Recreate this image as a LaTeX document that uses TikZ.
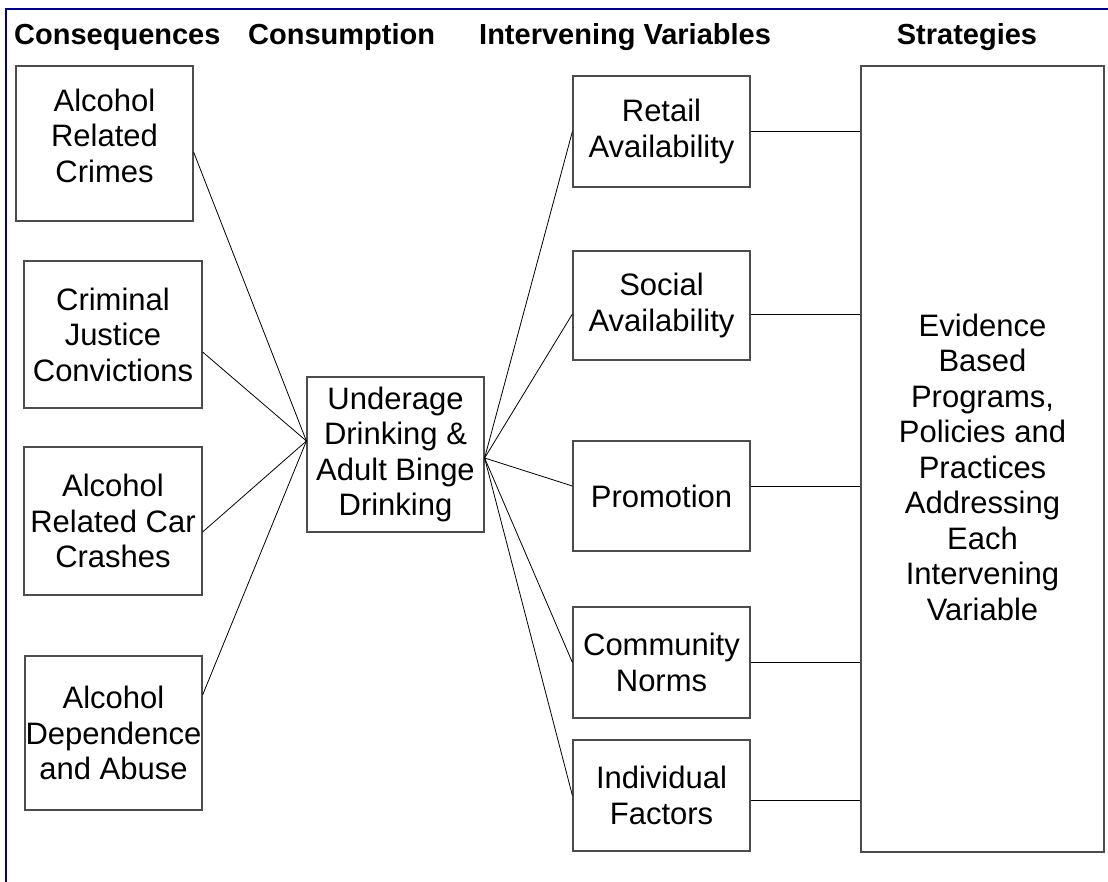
\documentclass[tikz,border=0pt]{standalone}
\usepackage{fontspec}
\setmainfont{Liberation Sans}
\definecolor{framenavy}{RGB}{0,0,128}
\begin{document}
\begin{tikzpicture}[x=1pt,y=-1pt,
  box/.style={draw=black!70, line width=1.2pt, rectangle, inner sep=0pt, align=center,
    font=\fontsize{31}{35.5}\selectfont},
  txt/.style={inner sep=0pt, align=center, font=\fontsize{31}{35.5}\selectfont},
  head/.style={inner sep=0pt, font=\fontsize{29}{33}\selectfont\bfseries},
  link/.style={draw=black, line width=0.8pt}]
\useasboundingbox (0,0) rectangle (1108,882);
\fill[white] (0,0) rectangle (1108,882);
\draw[framenavy, line width=2.2pt] (1108,9) -- (6,9) -- (6,882);

% headers
\node[head, anchor=base west] (h1) at (14,45) {Consequences};
\node[head, anchor=base west] (h2) at (248,45) {Consumption};
\node[head, anchor=base west] (h3) at (479,45) {Intervening Variables};
\node[head, anchor=base] (h4) at (967,45) {Strategies};

% consequences
\node[box, minimum width=177, minimum height=155] (A) at (104.5,143.5) {};
\node[txt] (At) at ([yshift=8pt]A.center) {Alcohol\\Related\\Crimes};
\node[box, minimum width=178, minimum height=147] (B) at (113,334.5) {Criminal\\Justice\\Convictions};
\node[box, minimum width=178, minimum height=148] (C) at (113,521) {Alcohol\\Related Car\\Crashes};
\node[box, minimum width=177, minimum height=154] (D) at (113.5,733) {Alcohol\\Dependence\\and Abuse};

% consumption
\node[box, minimum width=177, minimum height=155] (M) at (395.5,454.5) {Underage\\Drinking \&\\Adult Binge\\Drinking};

% intervening variables
\node[box, minimum width=177, minimum height=111] (R1) at (661.5,131.5) {Retail\\Availability};
\node[box, minimum width=177, minimum height=109] (R2) at (661.5,305.5) {Social\\Availability};
\node[box, minimum width=177, minimum height=110] (R3) at (661.5,496) {Promotion};
\node[box, minimum width=177, minimum height=111] (R4) at (661.5,662.5) {Community\\Norms};
\node[box, minimum width=177, minimum height=111] (R5) at (661.5,795.5) {Individual\\Factors};

% strategies
\node[box, minimum width=243, minimum height=786] (S) at (982.5,459) {};
\node[txt] (St) at ([yshift=-8pt]S.center) {Evidence\\Based\\Programs,\\Policies and\\Practices\\Addressing\\Each\\Intervening\\Variable};

% connectors left
\coordinate (ML) at ([yshift=13.5pt]M.west);
\coordinate (MR) at ([yshift=-3.5pt]M.east);
\draw[link] ([yshift=-8.5pt]A.east) -- (ML);
\draw[link] ([yshift=-17.5pt]B.east) -- (ML);
\draw[link] ([yshift=-11pt]C.east) -- (ML);
\draw[link] ([yshift=38pt]D.east) -- (ML);

% connectors right
\draw[link] (MR) -- (R1.west);
\draw[link] (MR) -- ([yshift=-8.5pt]R2.west);
\draw[link] (MR) -- ([yshift=10pt]R3.west);
\draw[link] (MR) -- (R4.west);
\draw[link] (MR) -- (R5.west);

% to strategies
\draw[link] (R1.east) -- (R1.east -| S.west);
\draw[link] ([yshift=-8.5pt]R2.east) -- ([yshift=-8.5pt]R2.east -| S.west);
\draw[link] ([yshift=10pt]R3.east) -- ([yshift=10pt]R3.east -| S.west);
\draw[link] (R4.east) -- (R4.east -| S.west);
\draw[link] ([yshift=-4.5pt]R5.east) -- ([yshift=-4.5pt]R5.east -| S.west);
\end{tikzpicture}
\end{document}
